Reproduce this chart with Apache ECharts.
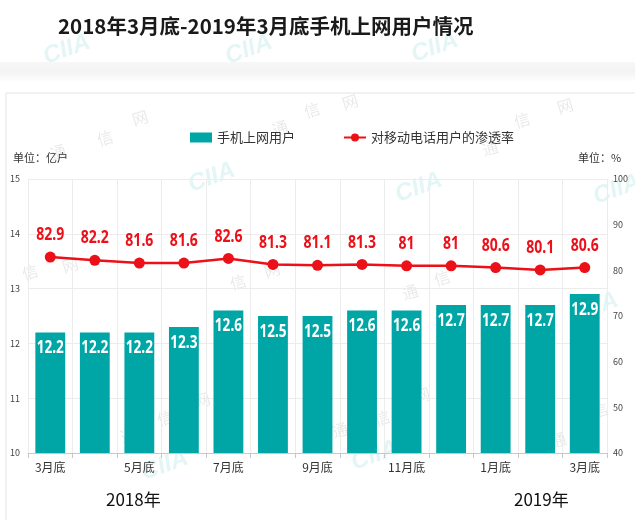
<!DOCTYPE html>
<html><head><meta charset="utf-8">
<script src="https://cdn.jsdelivr.net/npm/echarts@6/dist/echarts.min.js"></script>
<style>html,body{margin:0;padding:0;background:#fff;}#c{width:635px;height:520px;}</style>
</head><body><div id="c"></div>
<script>
const categories = ['3月底','4月底','5月底','6月底','7月底','8月底','9月底','10月底','11月底','12月底','1月底','2月底','3月底'];
const users = [12.2,12.2,12.2,12.3,12.6,12.5,12.5,12.6,12.6,12.7,12.7,12.7,12.9];
const penetration = [82.9,82.2,81.6,81.6,82.6,81.3,81.1,81.3,81,81,80.6,80.1,80.6];
const leftTicks = [10,15,1];
const rightTicks = [40,100,10];

const F = '"Noto Sans CJK SC","Noto Sans",sans-serif';
const NF = '"Noto Sans","Noto Sans CJK SC",sans-serif';
const chart = echarts.init(document.getElementById('c'));
function wm(x,y,t,rot,isLogo){
  return {type:'text',left:x,top:y,rotation:rot,z:-1,silent:true,
    style:{text:t,fill:isLogo?'rgba(0,160,160,0.11)':'rgba(0,0,0,0.09)',
      font:isLogo?'italic bold 24px Arial':'16px '+F}};
}
function labelSeries(vals, axisIdx, dy, color, size, sx){
  return {type:'custom',yAxisIndex:axisIdx,z:10,silent:true,
    data:vals.map((v,i)=>[i,v]),
    renderItem:function(params, api){
      const p = api.coord([api.value(0), api.value(1)]);
      return {type:'text',x:p[0],y:p[1]+dy,scaleX:sx,
        style:{x:0,y:0,text:String(api.value(1)),align:'center',verticalAlign:'middle',
          fill:color,font:'bold '+size+'px '+NF}};
    }};
}
chart.setOption({
  animation:false,
  backgroundColor:'#fff',
  textStyle:{fontFamily:F},
  title:{text:'2018年3月底-2019年3月底手机上网用户情况',left:53,top:11,
    textStyle:{fontSize:20.5,fontWeight:'bold',color:'#1a1a1a',fontFamily:F}},
  graphic:[
    {type:'rect',shape:{x:0,y:62,width:635,height:20},z:-3,silent:true,
      style:{fill:new echarts.graphic.LinearGradient(0,0,0,1,[{offset:0,color:'#f7f7f7'},{offset:0.5,color:'#f3f3f3'},{offset:1,color:'#ffffff'}])}},
    {type:'rect',shape:{x:6,y:93,width:640,height:440},z:-2,silent:true,
      style:{fill:'#fff',stroke:'#e4e4e4',lineWidth:1}},
    {type:'text',left:13,top:152,style:{text:'单位：亿户',font:'11px '+F,fill:'#333'}},
    {type:'text',left:578,top:152,style:{text:'单位：%',font:'11px '+F,fill:'#333'}},
    {type:'text',left:106,top:491,style:{text:'2018年',font:'17px '+F,fill:'#111'}},
    {type:'text',left:514,top:491,style:{text:'2019年',font:'17px '+F,fill:'#111'}},
    wm(40,30,'CIIA',0.35,true),wm(222,30,'CIIA',0.35,true),wm(408,28,'CIIA',0.35,true),
    wm(185,158,'CIIA',0.35,true),wm(392,168,'CIIA',0.35,true),wm(590,170,'CIIA',0.35,true),
    wm(138,446,'CIIA',0.35,true),wm(348,436,'CIIA',0.35,true),wm(568,288,'CIIA',0.35,true),
    wm(95,128,'信',0.3,false),wm(130,108,'网',0.3,false),wm(48,142,'通',0.3,false),
    wm(270,118,'通',0.3,false),wm(302,100,'信',0.3,false),wm(340,92,'网',0.3,false),
    wm(480,138,'通',0.3,false),wm(512,110,'信',0.3,false),wm(555,96,'网',0.3,false),
    wm(20,262,'信',0.3,false),wm(60,255,'网',0.3,false),
    wm(228,272,'信',0.3,false),wm(262,260,'网',0.3,false),
    wm(400,282,'通',0.3,false),wm(432,268,'信',0.3,false),
    wm(118,425,'通',0.3,false),wm(155,408,'信',0.3,false),wm(192,390,'网',0.3,false),
    wm(330,420,'通',0.3,false),wm(372,408,'信',0.3,false),wm(412,385,'网',0.3,false),
    wm(548,430,'通',0.3,false),wm(590,400,'信',0.3,false)
  ],
  legend:{top:126,left:185,itemGap:48,itemWidth:22,itemHeight:10,
    textStyle:{fontSize:13,color:'#333',fontFamily:F},
    data:[{name:'手机上网用户',icon:'rect'},{name:'对移动电话用户的渗透率'}]},
  grid:{left:28,right:28,top:179,bottom:67},
  xAxis:{type:'category',data:categories,
    axisLine:{lineStyle:{color:'#c8c8c8'}},
    axisTick:{show:true,interval:0,lineStyle:{color:'#c8c8c8'}},
    axisLabel:{interval:1,color:'#333',fontSize:12,margin:8,fontFamily:F},
    splitLine:{show:true,interval:0,lineStyle:{color:'#ececec'}}},
  yAxis:[
    {type:'value',min:leftTicks[0],max:leftTicks[1],interval:leftTicks[2],
      axisLine:{show:false},axisTick:{show:false},
      axisLabel:{color:'#444',fontSize:9,margin:8},
      splitLine:{show:true,lineStyle:{color:'#ececec'}}},
    {type:'value',min:rightTicks[0],max:rightTicks[1],interval:rightTicks[2],
      axisLine:{show:false},axisTick:{show:false},
      axisLabel:{color:'#444',fontSize:9,margin:6},
      splitLine:{show:false}}
  ],
  series:[
    {name:'手机上网用户',type:'bar',data:users,barWidth:'67%',
      itemStyle:{color:'#00a6a6'}},
    {name:'对移动电话用户的渗透率',type:'line',yAxisIndex:1,data:penetration,
      symbol:'circle',symbolSize:11,
      lineStyle:{color:'#ec1018',width:2.5},itemStyle:{color:'#ec1018'}},
    labelSeries(users,0,16,'#ffffff',17,0.8),
    labelSeries(penetration,1,-22,'#ec1018',18,0.78)
  ]
});
</script></body></html>
